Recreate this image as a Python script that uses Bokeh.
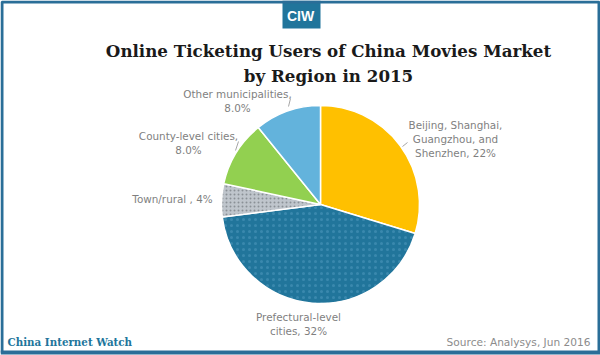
import math
from bokeh.plotting import figure
from bokeh.models import ColumnDataSource, Range1d
from bokeh.core.properties import value
from bokeh.embed import file_html
from bokeh.resources import INLINE

# ---- data ----
categories = ["Beijing, Shanghai, Guangzhou, and Shenzhen", "Prefectural-level cities",
              "Town/rural", "County-level cities", "Other municipalities"]
shares = [22, 32, 4, 8, 8]
colors = ["#FFC000", "#21759B", "#BFC5CC", "#92D050", "#63B3DC"]
hatches = [" ", ".", ".", " ", " "]
hatch_cols = ["#FFC000", "#3A88AE", "#8A9096", "#92D050", "#63B3DC"]
hatch_scales = [12, 6, 4, 12, 12]
label_lines = [["Beijing, Shanghai,", "Guangzhou, and", "Shenzhen, 22%"],
               ["Prefectural-level", "cities, 32%"],
               ["Town/rural , 4%"],
               ["County-level cities,", "8.0%"],
               ["Other municipalities,", "8.0%"]]

W, H = 600, 355
p = figure(width=W, height=H, output_backend="svg", toolbar_location=None,
           x_range=Range1d(0, 600), y_range=Range1d(0, 355), min_border=0)
p.axis.visible = False
p.grid.visible = False
p.outline_line_color = None
p.background_fill_color = "white"

def Y(v):
    return 355 - v

# pie
total = sum(shares)
starts, ends = [], []
a = math.pi / 2
for s in shares:
    starts.append(a)
    a -= 2 * math.pi * s / total
    ends.append(a)
src = ColumnDataSource(dict(start=starts, end=ends, color=colors, hatch=hatches,
                            hcol=hatch_cols, hs=hatch_scales))
cx, cy = 320, Y(204)
p.wedge(x=cx, y=cy, radius=99, radius_units="screen", start_angle="start", end_angle="end",
        direction="clock", fill_color="color", line_color="white", line_width=1.5,
        hatch_pattern="hatch", hatch_color="hcol", hatch_scale="hs", hatch_weight=0.5,
        source=src)

# labels
label_font = value("DejaVu Sans")
lab_color = "#7F7F7F"
lab_pos = [(455, 124), (298, 316), (172, 198), (188, 135), (237, 93)]
lx, ly, lt = [], [], []
for (x0, y0), lines in zip(lab_pos, label_lines):
    for i, t in enumerate(lines):
        lx.append(x0)
        ly.append(Y(y0 + 14 * i))
        lt.append(t)
p.text(x=lx, y=ly, text=lt, text_font=label_font, text_font_size="10.4px",
       text_color=lab_color, text_align="center", text_baseline="middle")

# leader lines
p.segment(x0=[290, 238, 407], y0=[Y(98), Y(141), Y(142)],
          x1=[288, 235, 402], y1=[Y(106), Y(150), Y(146)],
          line_color="#A6A6A6", line_width=1)

# title
p.text(x=[328, 328], y=[Y(50), Y(75)],
       text=["Online Ticketing Users of China Movies Market", "by Region in 2015"],
       text_font=value("DejaVu Serif"), text_font_style="bold", text_font_size="16.7px",
       text_color="#1A1A1A", text_align="center", text_baseline="middle")

# logo
p.quad(left=282, right=320, top=Y(0), bottom=Y(28), fill_color="#21759B", line_color=None)
p.text(x=[300], y=[Y(15)], text=["CIW"], text_font=value("Liberation Sans"),
       text_font_style="bold", text_font_size="14px", text_color="white",
       text_align="center", text_baseline="middle")

# footer
p.text(x=[7], y=[Y(341)], text=["China Internet Watch"], text_font=value("DejaVu Serif"),
       text_font_style="bold", text_font_size="10.3px", text_color="#21759B",
       text_align="left", text_baseline="middle")
p.text(x=[590], y=[Y(341)], text=["Source: Analysys, Jun 2016"], text_font=label_font,
       text_font_size="10.6px", text_color="#8C8C8C", text_align="right", text_baseline="middle")

# border
p.quad(left=1.5, right=598.5, top=Y(1.5), bottom=Y(352), fill_color=None,
       line_color="#2A6E98", line_width=3)
p.segment(x0=[0], y0=[Y(352)], x1=[600], y1=[Y(352)], line_color="#2A6E98", line_width=4)

open("out.html", "w").write(file_html(p, INLINE))
